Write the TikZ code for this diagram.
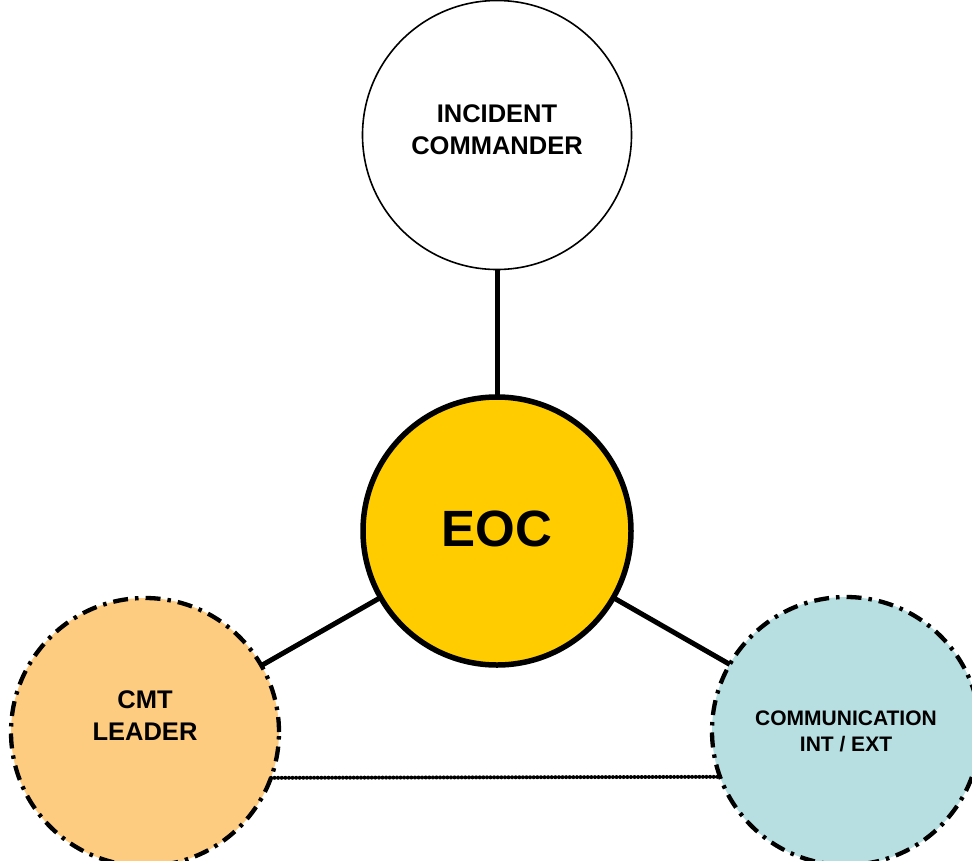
\documentclass[tikz,border=0pt]{standalone}
\usepackage{fontspec}
\setmainfont{Liberation Sans}
\definecolor{eocyellow}{RGB}{255,204,0}
\definecolor{cmtorange}{RGB}{254,204,128}
\definecolor{commblue}{RGB}{183,223,226}
\begin{document}
\begin{tikzpicture}[x=1pt,y=-1pt,
  bubble/.style={circle,inner sep=0pt,outer sep=0pt},
  lbl/.style={inner sep=0pt,align=center},
  dashdot/.style={line width=4.3pt,dash pattern=on 15pt off 7pt on 3.5pt off 7pt},
  link/.style={line width=5pt},
  dotlink/.style={line width=4pt,line cap=round,dash pattern=on 0pt off 3.6pt}]
\useasboundingbox (0,0) rectangle (972,860);
\node[bubble,draw,line width=1.6pt,fill=white,minimum size=269pt] (ic) at (497,135) {};
\node[bubble,draw,line width=5.5pt,fill=eocyellow,minimum size=268pt] (eoc) at (497,531) {};
\node[bubble,draw,dashdot,fill=cmtorange,minimum size=268pt] (cmt) at (145,732) {};
\node[bubble,draw,dashdot,fill=commblue,minimum size=268pt] (comm) at (846,731) {};
\node[lbl,font=\bfseries\fontsize{25.5}{32}\selectfont] (ictext) at ([yshift=5pt]ic.center) {INCIDENT\\COMMANDER};
\node[lbl,font=\bfseries\fontsize{51}{60}\selectfont] (eoctext) at ([yshift=2pt]eoc.center) {EOC};
\node[lbl,font=\bfseries\fontsize{25.5}{32}\selectfont] (cmttext) at ([yshift=16pt]cmt.center) {CMT\\LEADER};
\node[lbl,font=\bfseries\fontsize{21}{26}\selectfont] (commtext) at ([yshift=0pt]comm.center) {COMMUNICATION\\INT / EXT};
\draw[link] (ic) -- (eoc);
\draw[link] (eoc) -- (cmt);
\draw[link] (eoc) -- (comm);
\draw[dotlink] (cmt.-20.7) -- (comm.200.7);
\end{tikzpicture}
\end{document}
